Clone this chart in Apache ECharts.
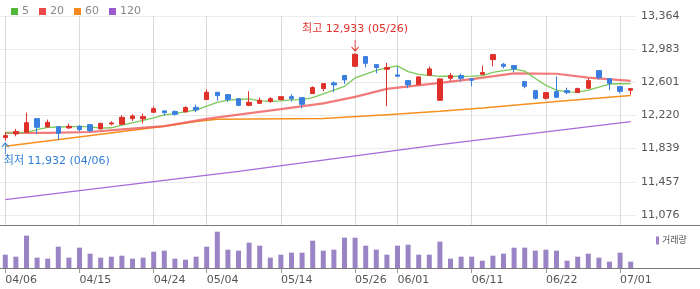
<!DOCTYPE html>
<html>
<head>
<meta charset="utf-8">
<script src="https://cdn.jsdelivr.net/npm/echarts@6/dist/echarts.min.js"></script>
<style>
html, body { margin: 0; padding: 0; background: #fff; }
#chart { width: 700px; height: 289px; }
</style>
</head>
<body>
<div id="chart"></div>
<script>
// 일자 (거래일)
const dates = [
    '04/06', '04/07', '04/08', '04/09', '04/12', '04/13', '04/14', '04/15', '04/16', '04/19',
    '04/20', '04/21', '04/22', '04/23', '04/24', '04/27', '04/28', '04/29', '04/30', '05/04',
    '05/06', '05/07', '05/08', '05/11', '05/12', '05/13', '05/14', '05/15', '05/18', '05/19',
    '05/20', '05/21', '05/22', '05/26', '05/27', '05/28', '05/29', '06/01', '06/02', '06/03',
    '06/04', '06/05', '06/08', '06/09', '06/11', '06/12', '06/15', '06/16', '06/17', '06/18',
    '06/19', '06/22', '06/23', '06/24', '06/25', '06/26', '06/29', '06/30', '07/01', '07/02'
];
const labelDates = ['04/06', '04/15', '04/24', '05/04', '05/14', '05/26', '06/01', '06/11', '06/22', '07/01'];

// 시가 / 종가 / 저가 / 고가
const opens = [
    11966, 12008, 12027, 12184, 12089, 12092, 12077, 12096, 12115, 12066,
    12123, 12119, 12184, 12181, 12257, 12273, 12265, 12261, 12314, 12403,
    12487, 12460, 12414, 12337, 12360, 12380, 12403, 12437, 12426, 12472,
    12529, 12595, 12679, 12786, 12897, 12805, 12751, 12687, 12621, 12575,
    12682, 12395, 12648, 12679, 12641, 12694, 12862, 12809, 12794, 12610,
    12506, 12418, 12495, 12506, 12483, 12533, 12736, 12644, 12552, 12510
];
const closes = [
    11989, 12035, 12138, 12084, 12142, 12015, 12096, 12058, 12046, 12130,
    12135, 12199, 12215, 12207, 12299, 12253, 12234, 12311, 12284, 12487,
    12449, 12403, 12337, 12372, 12395, 12414, 12437, 12414, 12349, 12541,
    12587, 12572, 12629, 12924, 12820, 12771, 12771, 12671, 12572, 12664,
    12756, 12641, 12679, 12648, 12625, 12713, 12920, 12786, 12756, 12556,
    12418, 12483, 12429, 12483, 12529, 12621, 12656, 12590, 12498, 12529
];
const lows = [
    11932, 11981, 12020, 12008, 12085, 11940, 12066, 12038, 12027, 12062,
    12107, 12115, 12158, 12130, 12255, 12219, 12219, 12257, 12257, 12400,
    12391, 12376, 12326, 12326, 12355, 12368, 12395, 12380, 12303, 12468,
    12498, 12487, 12583, 12780, 12774, 12705, 12326, 12668, 12533, 12572,
    12680, 12390, 12618, 12610, 12556, 12690, 12786, 12763, 12717, 12533,
    12403, 12403, 12425, 12464, 12480, 12530, 12633, 12510, 12475, 12460
];
const highs = [
    12027, 12066, 12253, 12190, 12173, 12097, 12127, 12107, 12120, 12135,
    12153, 12222, 12234, 12242, 12322, 12277, 12280, 12326, 12345, 12521,
    12490, 12465, 12418, 12498, 12426, 12429, 12441, 12464, 12430, 12556,
    12590, 12613, 12687, 12933, 12900, 12810, 12825, 12780, 12625, 12668,
    12782, 12645, 12710, 12702, 12645, 12794, 12928, 12825, 12798, 12614,
    12510, 12487, 12671, 12541, 12541, 12648, 12740, 12648, 12556, 12533
];

// 거래량 (상대값)
const volumes = [
    40, 34, 97, 31, 28, 64, 31, 61, 43, 31,
    34, 37, 28, 31, 49, 52, 28, 25, 34, 64,
    109, 55, 52, 76, 67, 31, 40, 46, 46, 82,
    52, 55, 91, 91, 67, 55, 40, 67, 70, 40,
    40, 79, 28, 34, 34, 22, 37, 43, 61, 61,
    52, 55, 52, 22, 34, 43, 31, 19, 46, 19
];

// 이동평균선
const ma5 = [
    12020, 12022, 12027, 12058, 12084, 12088, 12090, 12096, 12090, 12075,
    12079, 12108, 12136, 12163, 12193, 12228, 12242, 12265, 12282, 12329,
    12370, 12396, 12404, 12411, 12388, 12384, 12388, 12399, 12403, 12426,
    12469, 12512, 12556, 12652, 12696, 12738, 12767, 12791, 12725, 12694,
    12681, 12671, 12671, 12670, 12672, 12678, 12715, 12736, 12754, 12730,
    12646, 12566, 12512, 12491, 12489, 12512, 12546, 12582, 12585, 12586
];
const ma20 = [
    [0, 12020], [4, 12021], [8, 12030], [11, 12060], [15, 12098], [19, 12181],
    [22, 12230], [26, 12293], [30, 12360], [33, 12434], [36, 12526], [41, 12595],
    [44, 12638], [48, 12705], [52, 12700], [55, 12655], [59, 12618]
];
const ma60 = [
    [0, 11866], [15, 12096], [18, 12150], [20, 12178], [30, 12186], [36, 12230],
    [41, 12268], [45, 12307], [52, 12380], [59, 12449]
];
const ma120 = [[0, 11253], [22, 11578], [41, 11885], [59, 12150]];

// 가격축 눈금
const yTicks = [11076, 11457, 11839, 12220, 12601, 12983, 13364];
const yMin = 10961;

const UP = '#e0302a';
const DOWN = '#3a7fe0';
const LOW_C = '#2f7fd8';
const FONT = "'DejaVu Sans', 'Noto Sans CJK KR', sans-serif";

const chart = echarts.init(document.getElementById('chart'));

const hiIdx = highs.indexOf(Math.max(...highs));
const loIdx = lows.indexOf(Math.min(...lows));
const fmt = v => v.toLocaleString('en-US');
const showDate = (i, v) => labelDates.includes(v);

const maLine = (name, data, color, legendColor, width) => ({
    name: name,
    type: 'line',
    data: data,
    xAxisIndex: 0,
    yAxisIndex: 0,
    symbol: 'none',
    connectNulls: true,
    lineStyle: { color: color, width: width },
    itemStyle: { color: legendColor },
    z: 2
});

const option = {
    animation: false,
    textStyle: { fontFamily: FONT },
    legend: [{
        data: ['5', '20', '60', '120'],
        left: 6,
        top: 1,
        icon: 'rect',
        itemWidth: 7,
        itemHeight: 7,
        itemGap: 10,
        textStyle: { color: '#888', fontSize: 11, fontFamily: FONT, padding: [0, 0, 0, -1] }
    }, {
        data: ['거래량'],
        left: 651,
        top: 231,
        icon: 'rect',
        itemWidth: 3,
        itemHeight: 8,
        textStyle: { color: '#555', fontSize: 9, fontFamily: FONT, padding: [0, 0, 0, -2] }
    }],
    grid: [
        { left: 0, right: 64, top: 16, height: 209 },
        { left: 0, right: 64, top: 227, height: 41 }
    ],
    xAxis: [{
        type: 'category',
        gridIndex: 0,
        data: dates,
        axisLine: { show: false },
        axisTick: { show: false },
        axisLabel: { show: false },
        splitLine: { show: false }
    }, {
        type: 'category',
        gridIndex: 1,
        data: dates,
        axisLine: { show: false },
        axisTick: {
            show: true,
            interval: showDate,
            alignWithLabel: true,
            length: 5,
            lineStyle: { color: '#999' }
        },
        axisLabel: {
            interval: showDate,
            align: 'left',
            margin: 7,
            color: '#555',
            fontSize: 11,
            fontFamily: FONT
        },
        splitLine: { show: false }
    }],
    yAxis: [{
        type: 'value',
        gridIndex: 0,
        position: 'right',
        min: yMin,
        max: yTicks[yTicks.length - 1],
        axisLine: { show: false },
        axisTick: { show: false, customValues: yTicks },
        axisLabel: {
            customValues: yTicks,
            margin: 5,
            color: '#555',
            fontSize: 11,
            fontFamily: FONT,
            formatter: v => fmt(v)
        },
        splitLine: { show: true, lineStyle: { color: '#ebebeb', width: 1 } }
    }, {
        type: 'value',
        gridIndex: 1,
        min: 0,
        max: 123,
        axisLine: { show: false },
        axisTick: { show: false },
        axisLabel: { show: false },
        splitLine: { show: false }
    }],
    graphic: [
        { type: 'line', shape: { x1: 0, y1: 225.5, x2: 700, y2: 225.5 }, style: { stroke: '#7a7a7a', lineWidth: 1 }, z: 10 },
        { type: 'line', shape: { x1: 0, y1: 268.5, x2: 700, y2: 268.5 }, style: { stroke: '#7a7a7a', lineWidth: 1 }, z: 10 }
    ],
    series: [
        {
            // 날짜 세로 격자선 (캔들 아래)
            name: 'dateGrid',
            type: 'line',
            xAxisIndex: 0,
            yAxisIndex: 0,
            data: [],
            z: 0,
            markLine: {
                silent: true,
                z: 0,
                animation: false,
                symbol: ['none', 'none'],
                label: { show: false },
                emphasis: { disabled: true },
                lineStyle: { color: '#dadada', type: 'solid', width: 1, opacity: 1 },
                data: labelDates.map(d => ({ xAxis: d }))
            }
        },
        maLine('120', ma120, '#a86ad8', '#9c5bcc', 1.3),
        maLine('60', ma60, '#f5901e', '#f7881f', 1.5),
        maLine('20', ma20, 'rgba(238,90,90,0.8)', '#ec4a4a', 2.2),
        maLine('5', ma5, '#7cc95c', '#52b83a', 1.3),
        {
            name: '시세',
            type: 'candlestick',
            xAxisIndex: 0,
            yAxisIndex: 0,
            barWidth: 5,
            z: 3,
            data: dates.map((d, i) => [opens[i], closes[i], lows[i], highs[i]]),
            itemStyle: {
                color: UP,
                color0: DOWN,
                borderColor: UP,
                borderColor0: DOWN,
                borderWidth: 1
            },
            markPoint: {
                silent: true,
                data: [{
                    coord: [hiIdx, highs[hiIdx]],
                    symbol: 'path://M5,0L5,14M1,9L5,14L9,9',
                    symbolSize: [7, 11],
                    symbolOffset: [0, -8],
                    itemStyle: { color: 'none', borderColor: UP, borderWidth: 1 },
                    label: {
                        show: true,
                        position: 'top',
                        distance: 2,
                        color: UP,
                        fontSize: 11,
                        fontFamily: FONT,
                        formatter: '최고 ' + fmt(highs[hiIdx]) + ' (' + dates[hiIdx] + ')'
                    }
                }, {
                    coord: [loIdx, lows[loIdx]],
                    symbol: 'path://M5,14L5,0M1,5L5,0L9,5',
                    symbolSize: [7, 11],
                    symbolOffset: [0, 8],
                    itemStyle: { color: 'none', borderColor: LOW_C, borderWidth: 1 },
                    label: {
                        show: true,
                        position: [4, 16],
                        align: 'left',
                        verticalAlign: 'top',
                        color: LOW_C,
                        fontSize: 11,
                        fontFamily: FONT,
                        formatter: '최저 ' + fmt(lows[loIdx]) + ' (' + dates[loIdx] + ')'
                    }
                }]
            }
        },
        {
            name: '거래량',
            type: 'bar',
            xAxisIndex: 1,
            yAxisIndex: 1,
            data: volumes,
            barWidth: 5,
            itemStyle: { color: '#9a84c5' }
        }
    ]
};

chart.setOption(option);
</script>
</body>
</html>
